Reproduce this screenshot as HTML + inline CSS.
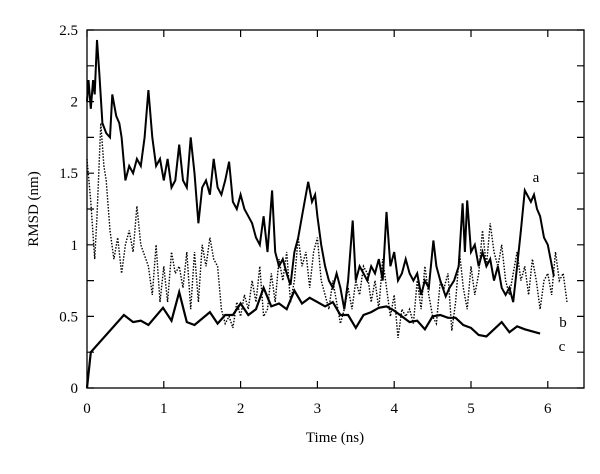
<!DOCTYPE html>
<html><head><meta charset="utf-8"><style>
body{margin:0;background:#fff;}
svg text{font-family:"Liberation Serif",serif;font-size:15px;fill:#000;}
</style></head><body>
<svg id="chart" width="600" height="469" xmlns="http://www.w3.org/2000/svg">
<g id="axes"></g><g id="series"></g>
</svg>
<script>
const xTicks=[0,1,2,3,4,5,6];
const yTicks=[0,0.5,1,1.5,2,2.5];
const yMinor=[0.25,0.75,1.25,1.75,2.25];
const tA=[0,0.02,0.05,0.08,0.1,0.13,0.16,0.2,0.25,0.3,0.33,0.38,0.42,0.45,0.5,0.55,0.6,0.65,0.7,0.75,0.8,0.85,0.9,0.95,1.0,1.05,1.1,1.15,1.2,1.25,1.3,1.35,1.4,1.45,1.5,1.55,1.6,1.65,1.7,1.75,1.8,1.85,1.9,1.95,2.0,2.05,2.1,2.15,2.2,2.25,2.3,2.35,2.41,2.45,2.5,2.55,2.6,2.65,2.7,2.75,2.8,2.88,2.93,2.97,3.0,3.05,3.1,3.15,3.2,3.25,3.3,3.35,3.4,3.46,3.5,3.55,3.6,3.65,3.7,3.75,3.8,3.85,3.9,3.95,4.0,4.05,4.1,4.15,4.2,4.25,4.3,4.35,4.4,4.45,4.51,4.55,4.6,4.67,4.72,4.78,4.84,4.89,4.92,4.95,5.0,5.05,5.1,5.15,5.2,5.25,5.3,5.35,5.4,5.45,5.5,5.55,5.6,5.65,5.7,5.78,5.82,5.86,5.9,5.95,6.0,6.08];
const vA=[2.0,2.15,1.95,2.15,2.05,2.43,2.2,1.85,1.78,1.75,2.05,1.9,1.85,1.75,1.45,1.55,1.5,1.6,1.55,1.75,2.08,1.75,1.55,1.6,1.45,1.6,1.4,1.45,1.7,1.45,1.4,1.75,1.5,1.15,1.4,1.45,1.35,1.6,1.4,1.35,1.45,1.58,1.3,1.25,1.35,1.25,1.2,1.15,1.05,1.0,1.2,0.95,1.38,0.95,0.85,0.9,0.8,0.72,0.95,1.05,1.2,1.44,1.3,1.35,1.2,1.0,0.85,0.75,0.7,0.8,0.7,0.55,0.75,1.17,0.75,0.85,0.8,0.75,0.85,0.8,0.9,0.75,1.23,0.85,0.95,0.75,0.8,0.9,0.8,0.75,0.8,0.65,0.75,0.7,1.03,0.85,0.75,0.64,0.7,0.75,0.85,1.29,0.95,1.31,0.95,1.0,0.85,0.95,0.85,0.9,0.75,0.85,0.7,0.65,0.7,0.6,0.85,1.1,1.38,1.3,1.35,1.25,1.2,1.05,1.0,0.78];
const tB=[0,0.05,0.1,0.13,0.18,0.22,0.25,0.3,0.35,0.4,0.45,0.5,0.55,0.6,0.65,0.7,0.8,0.85,0.9,0.95,1.0,1.05,1.1,1.15,1.2,1.25,1.3,1.35,1.4,1.45,1.5,1.55,1.6,1.65,1.7,1.75,1.8,1.85,1.9,1.95,2.0,2.05,2.1,2.15,2.2,2.25,2.3,2.35,2.4,2.45,2.5,2.55,2.6,2.65,2.7,2.75,2.8,2.85,2.9,2.95,3.0,3.05,3.1,3.15,3.2,3.25,3.3,3.35,3.4,3.45,3.5,3.55,3.6,3.65,3.7,3.75,3.8,3.85,3.9,3.95,4.0,4.05,4.1,4.15,4.2,4.25,4.3,4.35,4.4,4.45,4.5,4.55,4.6,4.65,4.7,4.75,4.8,4.85,4.9,4.95,5.0,5.05,5.1,5.15,5.2,5.25,5.3,5.35,5.4,5.45,5.5,5.55,5.6,5.65,5.7,5.75,5.8,5.85,5.9,5.95,6.0,6.05,6.1,6.15,6.2,6.25];
const vB=[1.6,1.3,0.9,1.2,1.85,1.55,1.45,1.1,0.9,1.05,0.8,1.0,1.1,0.95,1.27,1.0,0.85,0.65,1.0,0.6,0.85,0.6,0.95,0.8,0.85,0.7,0.95,0.55,0.95,0.6,1.0,0.85,1.05,0.9,0.85,0.55,0.45,0.5,0.42,0.6,0.5,0.65,0.55,0.75,0.6,0.85,0.5,0.55,0.8,0.6,0.9,0.75,0.95,0.6,0.75,1.05,0.85,0.95,0.7,0.95,1.05,0.75,0.65,0.55,0.75,0.6,0.45,0.55,0.7,0.55,0.75,0.65,0.85,0.8,0.6,0.75,0.55,0.9,0.7,0.5,0.65,0.35,0.55,0.5,0.55,0.45,0.75,0.55,0.85,0.65,0.5,0.45,0.75,0.7,0.8,0.4,0.6,0.95,0.7,0.55,0.85,0.65,0.8,1.1,0.85,1.15,0.95,0.85,1.0,0.75,0.65,0.8,0.95,0.75,0.85,0.65,0.9,0.75,0.55,0.75,0.8,0.65,0.95,0.75,0.8,0.6];
const tC=[0,0.05,0.48,0.6,0.7,0.8,0.99,1.1,1.2,1.3,1.4,1.6,1.7,1.8,1.9,2.0,2.1,2.2,2.3,2.4,2.5,2.6,2.7,2.8,2.9,3.0,3.1,3.2,3.3,3.4,3.5,3.6,3.7,3.8,3.9,4.0,4.1,4.2,4.3,4.4,4.5,4.6,4.7,4.8,4.9,5.0,5.1,5.2,5.3,5.4,5.5,5.6,5.7,5.9];
const vC=[0,0.25,0.51,0.46,0.47,0.44,0.56,0.47,0.67,0.46,0.44,0.53,0.45,0.51,0.51,0.59,0.51,0.55,0.70,0.57,0.59,0.55,0.68,0.59,0.63,0.60,0.57,0.60,0.51,0.51,0.42,0.51,0.53,0.56,0.57,0.54,0.50,0.46,0.47,0.41,0.50,0.51,0.49,0.49,0.44,0.42,0.37,0.36,0.41,0.46,0.39,0.43,0.41,0.38];

const L=87,R=584,T=30,B=388;
const xs=t=>L+t*76.8;
const ys=v=>B-v*143.2;
const NS="http://www.w3.org/2000/svg";
const axes=document.getElementById('axes'),ser=document.getElementById('series');
function mk(tag,attrs,parent){const e=document.createElementNS(NS,tag);for(const k in attrs)e.setAttribute(k,attrs[k]);parent.appendChild(e);return e;}
const frame=mk('rect',{x:L,y:T,width:R-L,height:B-T,fill:'none',stroke:'#000','stroke-width':1.3},axes);


xTicks.forEach(t=>{
  const x=xs(t);
  const g=mk('path',{d:`M${x},${B}v-7M${x},${T}v7`,stroke:'#000','stroke-width':1.2},axes);
  
  
  const tx=mk('text',{x:x,y:B+25,'text-anchor':'middle'},axes);tx.textContent=t;
  
  
});
yTicks.concat(yMinor).forEach(v=>{
  const y=ys(v);
  const g=mk('path',{d:`M${L},${y}h7M${R},${y}h-7`,stroke:'#000','stroke-width':1.2},axes);
  
  
});
yTicks.forEach(v=>{
  const tx=mk('text',{x:L-9,y:ys(v)+5,'text-anchor':'end'},axes);tx.textContent=v;
  
  
});
const xt=mk('text',{x:335,y:442,'text-anchor':'middle'},axes);xt.textContent='Time (ns)';


const yt=mk('text',{x:38,y:209,'text-anchor':'middle',transform:'rotate(-90 38 209)'},axes);yt.textContent='RMSD (nm)';


function line(ts,vs,attrs,name){
  const d=ts.map((t,i)=>(i?'L':'M')+xs(t).toFixed(1)+','+ys(vs[i]).toFixed(1)).join('');
  const p=mk('path',Object.assign({d:d,fill:'none',stroke:'#000'},attrs),ser);
  
  
}
line(tB,vB,{'stroke-width':1.4,'stroke-dasharray':'1.5 1.5'},'series-b-line');
line(tA,vA,{'stroke-width':2.0},'series-a-line');
line(tC,vC,{'stroke-width':2.2},'series-c-line');
[['a',536,182],['b',563,327],['c',562,351]].forEach(([s,x,y])=>{
  const tx=mk('text',{x:x,y:y,'text-anchor':'middle'},ser);tx.textContent=s;
  
  
});
</script>
</body></html>
